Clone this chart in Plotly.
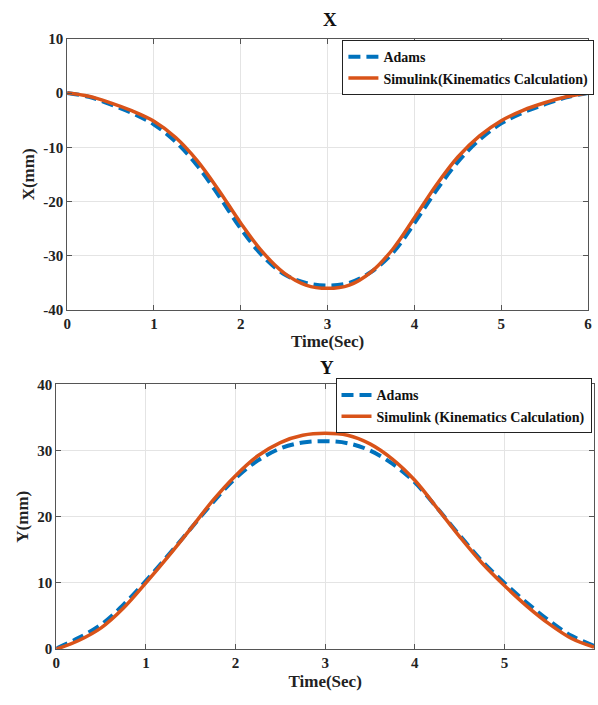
import plotly.graph_objects as go

t = [0, 0.25, 0.5, 0.75, 1.0, 1.25, 1.5, 1.75, 2.0, 2.25, 2.5, 2.75, 3.0,
     3.25, 3.5, 3.75, 4.0, 4.25, 4.5, 4.75, 5.0, 5.25, 5.5, 5.75, 6.0]

x_simulink = [0, -0.6, -1.8, -3.3, -5.2, -8.2, -12.5, -18.0, -24.0, -29.3, -33.2, -35.4, -36.0,
              -35.4, -33.0, -28.8, -23.0, -17.0, -11.8, -7.9, -5.1, -3.2, -1.8, -0.7, 0]
x_adams = [0, -0.7, -2.1, -3.7, -5.8, -9.0, -13.4, -19.0, -25.0, -30.0, -33.4, -35.0, -35.5,
           -35.0, -33.0, -29.5, -24.0, -18.0, -12.7, -8.6, -5.6, -3.6, -2.1, -0.8, 0]

y_simulink = [0.0, 1.3, 3.2, 6.2, 10.0, 14.0, 18.2, 22.5, 26.2, 29.2, 31.2, 32.3, 32.6,
              32.3, 31.0, 28.7, 25.5, 21.3, 17.0, 13.0, 9.6, 6.5, 3.8, 1.6, 0.3]
y_adams = [0.1, 1.7, 3.7, 6.7, 10.3, 14.2, 18.2, 22.2, 25.8, 28.5, 30.3, 31.2, 31.4,
           31.1, 30.0, 28.0, 25.2, 21.3, 17.2, 13.3, 10.0, 7.0, 4.3, 2.0, 0.5]

time_ticks = [0, 1, 2, 3, 4, 5, 6]
x_ticks = [10, 0, -10, -20, -30, -40]
y_ticks = [0, 10, 20, 30, 40]

BLUE = "#0072BD"
ORANGE = "#D95319"
FONT = "Liberation Serif"

fig = go.Figure()
fig.add_trace(go.Scatter(x=t, y=x_adams, name="Adams", mode="lines",
                         line=dict(color=BLUE, width=4, dash="12px,6px", shape="spline"),
                         xaxis="x", yaxis="y", legend="legend"))
fig.add_trace(go.Scatter(x=t, y=x_simulink, name="Simulink(Kinematics Calculation)", mode="lines",
                         line=dict(color=ORANGE, width=3.5, shape="spline"),
                         xaxis="x", yaxis="y", legend="legend"))
fig.add_trace(go.Scatter(x=t, y=y_adams, name="Adams", mode="lines",
                         line=dict(color=BLUE, width=4, dash="12px,6px", shape="spline"),
                         xaxis="x2", yaxis="y2", legend="legend2"))
fig.add_trace(go.Scatter(x=t, y=y_simulink, name="Simulink (Kinematics Calculation)", mode="lines",
                         line=dict(color=ORANGE, width=3.5, shape="spline"),
                         xaxis="x2", yaxis="y2", legend="legend2"))

tickfont = dict(family=FONT, size=15, color="#222", weight="bold")
titlefont = dict(family=FONT, size=17, color="#222", weight="bold")
axis_common = dict(showline=True, linecolor="#555", linewidth=1, mirror="ticks",
                   ticks="inside", ticklen=5, tickcolor="#555",
                   showgrid=True, gridcolor="#e4e4e4", gridwidth=1,
                   zeroline=False, tickfont=tickfont)

legend_font = dict(family=FONT, size=14, color="#111", weight="bold")

fig.update_layout(
    width=598, height=705,
    margin=dict(l=0, r=0, t=0, b=0),
    paper_bgcolor="white", plot_bgcolor="white",
    xaxis=dict(domain=[64/598, 592/598], range=[0, 6], anchor="y",
               tickvals=time_ticks, ticktext=[str(v) for v in time_ticks],
               title=dict(text="Time(Sec)", font=titlefont, standoff=4), **axis_common),
    yaxis=dict(domain=[1-309/705, 1-31.5/705], range=[-40, 10], anchor="x",
               tickvals=x_ticks, ticktext=[str(v) for v in x_ticks],
               title=dict(text="X(mm)", font=titlefont, standoff=4), **axis_common),
    xaxis2=dict(domain=[53/598, 1.0], range=[0, 6], anchor="y2",
                tickvals=time_ticks, ticktext=[str(v) for v in time_ticks],
                title=dict(text="Time(Sec)", font=titlefont, standoff=4), **axis_common),
    yaxis2=dict(domain=[1-656/705, 1-385/705], range=[0, 40], anchor="x2",
                tickvals=y_ticks, ticktext=[str(v) for v in y_ticks],
                title=dict(text="Y(mm)", font=titlefont, standoff=4), **axis_common),
    legend=dict(x=343/598, y=1-33/705, xanchor="left", yanchor="top",
                bgcolor="white", bordercolor="#222", borderwidth=1,
                font=legend_font, tracegroupgap=0, itemwidth=30),
    legend2=dict(x=336/598, y=1-379/705, xanchor="left", yanchor="top",
                 bgcolor="white", bordercolor="#222", borderwidth=1,
                 font=legend_font, tracegroupgap=0, itemwidth=30),
    annotations=[
        dict(text="X", x=330/598, y=1-12/705, xref="paper", yref="paper",
             xanchor="center", yanchor="middle", showarrow=False,
             font=dict(family=FONT, size=19, color="#111", weight="bold")),
        dict(text="Y", x=327/598, y=1-368/705, xref="paper", yref="paper",
             xanchor="center", yanchor="middle", showarrow=False,
             font=dict(family=FONT, size=19, color="#111", weight="bold")),
    ],
)

fig.write_html("out.html")
